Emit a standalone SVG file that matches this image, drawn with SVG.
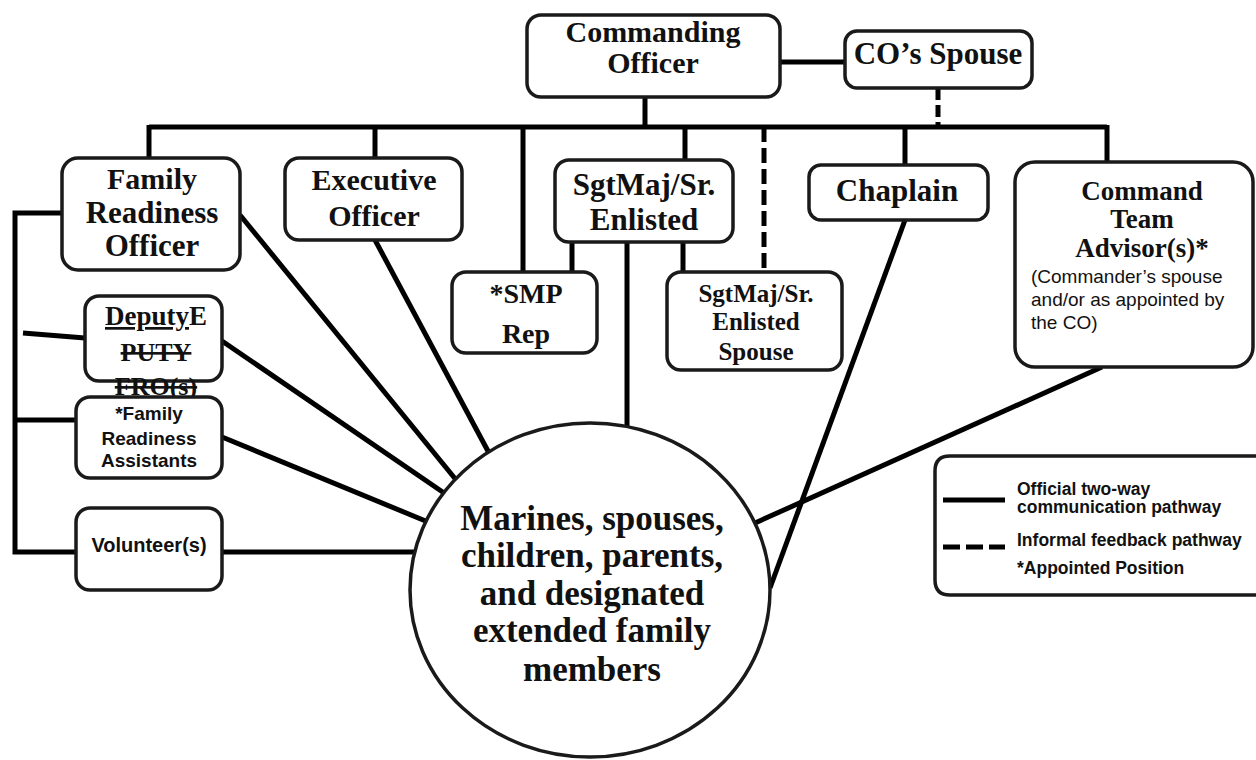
<svg xmlns="http://www.w3.org/2000/svg" width="1256" height="760" viewBox="0 0 1256 760">
<style>
.bg{fill:#fff}
.box{fill:#fff;stroke:#1a1a1a;stroke-width:3.5}
.ln{stroke:#000;stroke-width:5;fill:none;stroke-linecap:butt}
.dash{stroke:#000;stroke-width:5;fill:none;stroke-dasharray:15 6}
.t{font-family:"Liberation Serif","Times New Roman",serif;font-weight:bold;fill:#111;text-anchor:middle}
.s{font-family:"Liberation Sans",Arial,sans-serif;font-weight:bold;fill:#111;text-anchor:middle}
.lg{font-family:"Liberation Sans",Arial,sans-serif;font-weight:bold;fill:#111;font-size:17.5px}
.sm{font-family:"Liberation Sans",Arial,sans-serif;fill:#111;font-size:19px}
</style>
<rect class="bg" x="0" y="0" width="1256" height="760"/>
<g id="connectors">
  <line class="ln" x1="780" y1="62" x2="845" y2="62"/>
  <line class="ln" x1="645" y1="97" x2="645" y2="127"/>
  <line class="dash" x1="938" y1="88" x2="938" y2="125" style="stroke-dasharray:12 5"/>
  <line class="ln" x1="149" y1="127" x2="1107" y2="127"/>
  <line class="ln" x1="149" y1="125" x2="149" y2="158"/>
  <line class="ln" x1="375" y1="127" x2="375" y2="158"/>
  <line class="ln" x1="523" y1="127" x2="523" y2="272"/>
  <line class="ln" x1="685" y1="127" x2="685" y2="160"/>
  <line class="dash" x1="764" y1="127" x2="764" y2="272"/>
  <line class="ln" x1="905" y1="127" x2="905" y2="165"/>
  <line class="ln" x1="1107" y1="125" x2="1107" y2="162"/>
  <line class="ln" x1="572" y1="242" x2="572" y2="272"/>
  <line class="ln" x1="683" y1="242" x2="683" y2="272"/>
  <polyline class="ln" points="62,213 15,213 15,552 76,552"/>
  <line class="ln" x1="15" y1="420" x2="76" y2="420"/>
  <line class="ln" x1="23" y1="333" x2="85" y2="338"/>
  <line class="ln" x1="222" y1="552" x2="414" y2="552"/>
  <line class="ln" x1="222" y1="437" x2="428" y2="522"/>
  <line class="ln" x1="222" y1="341" x2="447" y2="495"/>
  <line class="ln" x1="240" y1="215" x2="457" y2="481"/>
  <line class="ln" x1="375" y1="240" x2="489" y2="453"/>
  <line class="ln" x1="627" y1="242" x2="627" y2="426"/>
  <line class="ln" x1="1102" y1="367" x2="755" y2="523"/>
  <line class="ln" x1="905" y1="220" x2="770" y2="588"/>
</g>
<g id="commanding-officer">
  <rect class="box" x="527" y="15" width="253" height="82" rx="14"/>
  <text class="t" x="653" y="42" font-size="30">Commanding</text>
  <text class="t" x="653" y="73" font-size="30">Officer</text>
</g>
<g id="co-spouse">
  <rect class="box" x="845" y="31" width="187" height="57" rx="12"/>
  <text class="t" x="938" y="64" font-size="31">CO’s Spouse</text>
</g>
<g id="family-readiness-officer">
  <rect class="box" x="62" y="158" width="178" height="112" rx="16"/>
  <text class="t" x="152" y="189" font-size="30">Family</text>
  <text class="t" x="152" y="223" font-size="31">Readiness</text>
  <text class="t" x="152" y="256" font-size="31">Officer</text>
</g>
<g id="executive-officer">
  <rect class="box" x="285" y="158" width="177" height="82" rx="14"/>
  <text class="t" x="374" y="190" font-size="30">Executive</text>
  <text class="t" x="374" y="226" font-size="30">Officer</text>
</g>
<g id="sgtmaj">
  <rect class="box" x="555" y="160" width="178" height="82" rx="14"/>
  <text class="t" x="644" y="195" font-size="31">SgtMaj/Sr.</text>
  <text class="t" x="644" y="230" font-size="31">Enlisted</text>
</g>
<g id="smp-rep">
  <rect class="box" x="452" y="272" width="145" height="81" rx="14"/>
  <text class="t" x="526" y="303" font-size="28">*SMP</text>
  <text class="t" x="526" y="343" font-size="28">Rep</text>
</g>
<g id="sgtmaj-spouse">
  <rect class="box" x="667" y="272" width="175" height="98" rx="14"/>
  <text class="t" x="756" y="302" font-size="25">SgtMaj/Sr.</text>
  <text class="t" x="756" y="330" font-size="25">Enlisted</text>
  <text class="t" x="756" y="360" font-size="25">Spouse</text>
</g>
<g id="chaplain">
  <rect class="box" x="809" y="165" width="179" height="55" rx="12"/>
  <text class="t" x="897" y="201" font-size="31">Chaplain</text>
</g>
<g id="command-team-advisor">
  <rect class="box" x="1015" y="162" width="238" height="205" rx="20"/>
  <text class="t" x="1142" y="200" font-size="27">Command</text>
  <text class="t" x="1142" y="228" font-size="27">Team</text>
  <text class="t" x="1142" y="257" font-size="27">Advisor(s)*</text>
  <text class="sm" x="1031" y="283">(Commander’s spouse</text>
  <text class="sm" x="1031" y="306">and/or as appointed by</text>
  <text class="sm" x="1031" y="329">the CO)</text>
</g>
<g id="deputy-fro">
  <rect class="box" x="85" y="296" width="137" height="85" rx="14"/>
  <text class="t" x="156" y="325" font-size="27"><tspan text-decoration="underline">Deputy</tspan>E</text>
  <text class="t" x="156" y="361" font-size="26" text-decoration="line-through">PUTY</text>
  <text class="t" x="156" y="395" font-size="26" text-decoration="line-through">FRO(s)</text>
</g>
<g id="family-readiness-assistants">
  <rect class="box" x="76" y="397" width="146" height="81" rx="14"/>
  <text class="s" x="149" y="420" font-size="19">*Family</text>
  <text class="s" x="149" y="445" font-size="19">Readiness</text>
  <text class="s" x="149" y="467" font-size="19">Assistants</text>
</g>
<g id="volunteers">
  <rect class="box" x="76" y="508" width="146" height="82" rx="14"/>
  <text class="s" x="149" y="552" font-size="20">Volunteer(s)</text>
</g>
<g id="family-members">
  <ellipse class="box" cx="590" cy="590" rx="180" ry="167"/>
  <text class="t" x="592" y="530" font-size="35">Marines, spouses,</text>
  <text class="t" x="592" y="567" font-size="35">children, parents,</text>
  <text class="t" x="592" y="605" font-size="35">and designated</text>
  <text class="t" x="592" y="642" font-size="35">extended family</text>
  <text class="t" x="592" y="681" font-size="35">members</text>
</g>
<g id="legend">
  <path class="box" d="M1256,456 L950,456 Q935,456 935,471 L935,580 Q935,595 950,595 L1256,595" style="fill:#fff"/>
  <line class="ln" x1="943" y1="500" x2="1005" y2="500"/>
  <line class="ln" x1="943" y1="547" x2="1005" y2="547" style="stroke-dasharray:17 6"/>
  <text class="lg" x="1017" y="495">Official two-way</text>
  <text class="lg" x="1017" y="513">communication pathway</text>
  <text class="lg" x="1017" y="546">Informal feedback pathway</text>
  <text class="lg" x="1017" y="574">*Appointed Position</text>
</g>
</svg>
